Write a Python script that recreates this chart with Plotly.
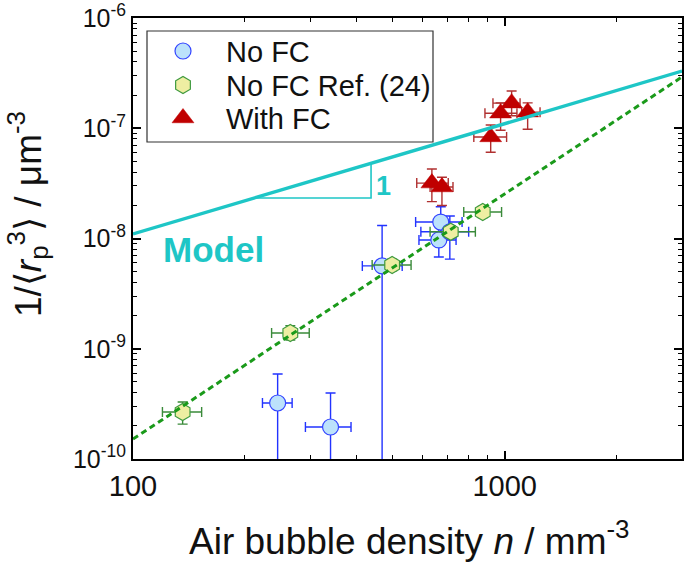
import plotly.graph_objects as go

# ---------------- data ----------------
# No FC (blue circles)
nofc_x = [245, 340, 468, 673, 665, 712]
nofc_y = [3.22e-10, 1.95e-10, 5.64e-9, 1.41e-8, 9.7e-9, 1.15e-8]
nofc_y_hi = [5.9e-10, 3.97e-10, 1.31e-8, 1.94e-8, 1.30e-8, 1.60e-8]
nofc_y_lo = [1e-11, 1e-11, 1e-11, 1.10e-8, 6.8e-9, 6.5e-9]
nofc_x_lo = [223, 291, 414, 576, 588, 595]
nofc_x_hi = [268, 386, 530, 768, 740, 800]

# No FC Ref. (24) (yellow hexagons)
ref_x = [136, 265, 498, 716, 873]
ref_y = [2.67e-10, 1.39e-9, 5.75e-9, 1.15e-8, 1.74e-8]
ref_y_hi = [3.29e-10, 1.62e-9, 6.5e-9, 1.30e-8, 1.95e-8]
ref_y_lo = [2.07e-10, 1.20e-9, 5.1e-9, 1.02e-8, 1.55e-8]
ref_x_lo = [120, 236, 440, 630, 776]
ref_x_hi = [153, 298, 560, 834, 981]

# With FC (red triangles)
fc_x = [637, 678, 917, 975, 1044, 1153]
fc_y = [3.18e-8, 2.93e-8, 8.34e-8, 1.37e-7, 1.69e-7, 1.40e-7]
fc_y_hi = [4.27e-8, 3.59e-8, 1.07e-7, 1.70e-7, 2.18e-7, 1.70e-7]
fc_y_lo = [2.16e-8, 1.99e-8, 6.05e-8, 9.6e-8, 1.30e-7, 9.8e-8]
fc_x_lo = [580, 630, 826, 885, 930, 1111]
fc_x_hi = [705, 726, 1012, 1079, 1100, 1245]

# Model line (slope 1) and fit line
model_x = [100, 3000]
model_y = [1.10e-8, 3.30e-7]
fit_x = [100, 3000]
fit_y = [1.52e-10, 2.92e-7]
# slope triangle
tri_x = [212, 437, 437]
tri_y = [2.33e-8, 2.33e-8, 4.81e-8]

x_ticks = [100, 1000]
x_ticklabels = ["100", "1000"]
y_ticks = [1e-10, 1e-9, 1e-8, 1e-7, 1e-6]
y_ticklabels = ["10<sup>-10</sup>", "10<sup>-9</sup>", "10<sup>-8</sup>",
                "10<sup>-7</sup>", "10<sup>-6</sup>"]

legend_names = ["No FC", "No FC Ref. (24)", "With FC"]


def diff(a, b):
    return [p - q for p, q in zip(a, b)]


FONT = "Liberation Sans, Arial, sans-serif"
CYAN = "#1ec6c6"
GREEN = "#1a9a1a"

L, R, T, B = 133, 3, 18, 103
W, H = 685, 562
pw, ph = W - L - R, H - T - B


def px(x):
    return (x - L) / pw


def py(y):
    return (H - B - y) / ph


styles = [
    dict(marker=dict(symbol="circle", size=16, color="#bce2fb",
                     line=dict(color="#3344ff", width=1.2)), err="#2233ff"),
    dict(marker=dict(symbol="hexagon", size=17, color="#eeeea2",
                     line=dict(color="#3f9a3f", width=1.2)), err="#3a8a3a"),
    dict(marker=dict(symbol="triangle-up", size=19, color="#c00000",
                     line=dict(color="#c00000", width=0.5)), err="#b03030"),
]
series = [
    (nofc_x, nofc_y, nofc_x_lo, nofc_x_hi, nofc_y_lo, nofc_y_hi),
    (ref_x, ref_y, ref_x_lo, ref_x_hi, ref_y_lo, ref_y_hi),
    (fc_x, fc_y, fc_x_lo, fc_x_hi, fc_y_lo, fc_y_hi),
]

fig = go.Figure()

for name, st, (sx, sy, xlo, xhi, ylo, yhi) in zip(legend_names, styles, series):
    fig.add_trace(go.Scatter(
        x=sx, y=sy, mode="markers", name=name, showlegend=False,
        marker=st["marker"],
        error_y=dict(type="data", symmetric=False, array=diff(yhi, sy),
                     arrayminus=diff(sy, ylo), color=st["err"],
                     thickness=1.4, width=5),
        error_x=dict(type="data", symmetric=False, array=diff(xhi, sx),
                     arrayminus=diff(sx, xlo), color=st["err"],
                     thickness=1.4, width=5),
    ))

fig.add_trace(go.Scatter(x=fit_x, y=fit_y, mode="lines", showlegend=False,
                         line=dict(color=GREEN, width=3, dash="6px,4px")))
fig.add_trace(go.Scatter(x=model_x, y=model_y, mode="lines", showlegend=False,
                         line=dict(color=CYAN, width=3.4)))
fig.add_trace(go.Scatter(x=tri_x, y=tri_y, mode="lines", showlegend=False,
                         line=dict(color=CYAN, width=1.6)))

# ---- legend (drawn on an overlay axis spanning the plot area) ----
leg_rows = [51, 85, 118]
for name, st, ry in zip(legend_names, styles, leg_rows):
    fig.add_trace(go.Scatter(
        x=[px(183)], y=[py(ry)], xaxis="x2", yaxis="y2", mode="markers",
        showlegend=False, marker=st["marker"], hoverinfo="skip"))

axis_common = dict(showgrid=False, zeroline=False, showline=True,
                   linecolor="black", linewidth=2, mirror="allticks",
                   ticks="inside", ticklen=8, tickwidth=1.5, tickcolor="black",
                   automargin=False)

fig.update_layout(
    xaxis=dict(type="log", range=[2, 3.4771], tickmode="array",
               tickvals=x_ticks, ticktext=x_ticklabels,
               tickfont=dict(family=FONT, size=29, color="#111"),
               minor=dict(ticks="inside", ticklen=4, tickwidth=1.2,
                          tickcolor="black", showgrid=False,
                          tickmode="array",
                          tickvals=[200, 300, 400, 500, 600, 700, 800, 900,
                                    2000, 3000]),
               **axis_common),
    yaxis=dict(type="log", range=[-10, -6], tickmode="array",
               tickvals=y_ticks, ticktext=y_ticklabels,
               tickfont=dict(family=FONT, size=25, color="#111"),
               minor=dict(ticks="inside", ticklen=4, tickwidth=1.2,
                          tickcolor="black", showgrid=False,
                          tickmode="array",
                          tickvals=[m * 10.0 ** e for e in range(-10, -6)
                                    for m in range(2, 10)]),
               **axis_common),
    xaxis2=dict(overlaying="x", range=[0, 1], visible=False, domain=[0, 1]),
    yaxis2=dict(overlaying="y", range=[0, 1], visible=False, domain=[0, 1]),
)

annotations = [
    dict(text="Air bubble density <i>n</i> / mm<sup>-3</sup>",
         xref="paper", yref="paper", x=px(409), y=py(538),
         xanchor="center", yanchor="middle", showarrow=False,
         font=dict(family=FONT, size=37, color="#111")),
    dict(text="1/⟨<i>r</i><sub>p</sub><sup>3</sup>⟩ / μm<sup>-3</sup>",
         xref="paper", yref="paper", x=px(27), y=py(214),
         xanchor="center", yanchor="middle", showarrow=False,
         textangle=-90,
         font=dict(family=FONT, size=37, color="#111")),
    dict(text="<b>Model</b>", xref="paper", yref="paper",
         x=px(213), y=py(249), xanchor="center", yanchor="middle",
         showarrow=False, font=dict(family=FONT, size=35, color=CYAN)),
    dict(text="<b>1</b>", xref="paper", yref="paper",
         x=px(383), y=py(186), xanchor="center", yanchor="middle",
         showarrow=False, font=dict(family=FONT, size=27, color=CYAN)),
]
for name, ry in zip(legend_names, leg_rows):
    annotations.append(dict(text=name, xref="paper", yref="paper",
                            x=px(224), y=py(ry + 1), xanchor="left",
                            yanchor="middle", showarrow=False,
                            font=dict(family=FONT, size=29, color="#111")))

fig.update_layout(
    width=W, height=H,
    margin=dict(l=L, r=R, t=T, b=B, pad=0),
    paper_bgcolor="white", plot_bgcolor="white",
    font=dict(family=FONT, color="#111"),
    showlegend=False,
    annotations=annotations,
    shapes=[dict(type="rect", xref="paper", yref="paper",
                 x0=px(147), x1=px(433), y0=py(142), y1=py(31),
                 line=dict(color="#333", width=1.2), layer="above")],
)

fig.write_html("out.html", config={"displayModeBar": False},
               post_script="document.body.style.margin='0';"
                           "document.body.style.padding='0';")
